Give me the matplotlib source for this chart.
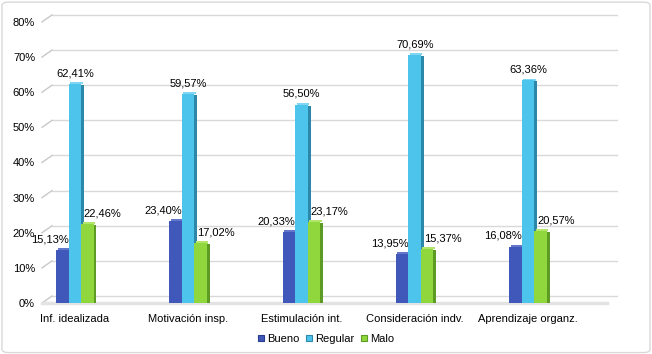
import matplotlib.pyplot as plt
import matplotlib.transforms as mtransforms
from matplotlib.patches import FancyBboxPatch
from matplotlib.lines import Line2D
import numpy as np

# datos
categorias = ['Inf. idealizada', 'Motivación insp.', 'Estimulación int.',
              'Consideración indv.', 'Aprendizaje organz.']
bueno = [15.13, 23.40, 20.33, 13.95, 16.08]
regular = [62.41, 59.57, 56.50, 70.69, 63.36]
malo = [22.46, 17.02, 23.17, 15.37, 20.57]
series = ['Bueno', 'Regular', 'Malo']
yticks = [0, 10, 20, 30, 40, 50, 60, 70, 80]

colores = ['#4058BA', '#4CC4EC', '#8FD73C']
lados = ['#2A3A8C', '#2C87A9', '#5E9B24']
topes = ['#6276CC', '#7ED6F2', '#B2E66A']

plt.rcParams['font.family'] = ['Liberation Sans', 'DejaVu Sans']
plt.rcParams['font.size'] = 8

fig = plt.figure(figsize=(6.52, 3.54), dpi=100)
fig.patches.append(FancyBboxPatch((0.003, 0.004), 0.994, 0.99, boxstyle='round,pad=0,rounding_size=0.01',
                                  transform=fig.transFigure, fc='none', ec='#D9D9D9', lw=1, zorder=-1))
ax = fig.add_axes([0.0644, 0.144, 0.867, 0.794])
ax.set_xlim(-0.29, 4.70)
ax.set_ylim(0, 80)
for s in ax.spines.values():
    s.set_visible(False)
ax.patch.set_alpha(0)

# pared del fondo (desplazada 10px a la derecha y 7px arriba)
dx, dy = 10, 7
desp = mtransforms.offset_copy(ax.transData, fig=fig, x=dx, y=dy, units='dots')
diag = mtransforms.offset_copy(ax.transData, fig=fig, x=0, y=0, units='dots')
for t in yticks:
    ax.plot([-0.29, 4.70], [t, t], color='#D9D9D9', lw=1, transform=desp, zorder=0, clip_on=False)
    # pequeña diagonal del lateral izquierdo
    ax.plot([-0.29, -0.29 + dx / 113.0], [t, t + dy / 3.51], color='#C8C8C8', lw=1,
            zorder=0, clip_on=False)
ax.plot([-0.29, 4.70], [0, 0], color='#E3E3E3', lw=2.5, zorder=1, clip_on=False)

ax.set_yticks(yticks)
ax.set_yticklabels([f'{t}%' for t in yticks])
ax.tick_params(axis='y', length=0, pad=5)
ax.tick_params(axis='x', length=0, pad=8)

x = np.arange(len(categorias))
w = 0.11
valores = [bueno, regular, malo]
offs_txt = [-9, 0, 11]
for i, vals in enumerate(valores):
    pos = x + (i - 1) * w
    # sombra en el suelo
    ax.bar(pos + 0.02, 1.0, w, color='#CFCFCF', alpha=0.6, zorder=1, bottom=-0.5)
    ax.bar(pos + w / 2 + 0.013, np.array(vals) - 0.3, 0.026, color=lados[i], zorder=2)
    ax.bar(pos, vals, w, color=colores[i], zorder=3, label=series[i])
    ax.bar(pos + 0.013, 0.6, w, bottom=np.array(vals) - 0.1, color=topes[i], zorder=2)
    for xx, v in zip(pos, vals):
        ax.annotate(f'{v:.2f}%'.replace('.', ','), (xx, v), xytext=(offs_txt[i], 4),
                    textcoords='offset points', ha='center', va='bottom', fontsize=8)

ax.set_xticks(x)
ax.set_xticklabels(categorias)

handles = [plt.Rectangle((0, 0), 1, 1, fc=colores[i], ec=lados[i], lw=0.8) for i in range(3)]
fig.legend(handles, series, loc='center', bbox_to_anchor=(0.5, 0.043), ncol=3, frameon=False,
           handlelength=0.55, handleheight=0.55, handletextpad=0.25, columnspacing=0.6, fontsize=8)

plt.savefig('out.png')
